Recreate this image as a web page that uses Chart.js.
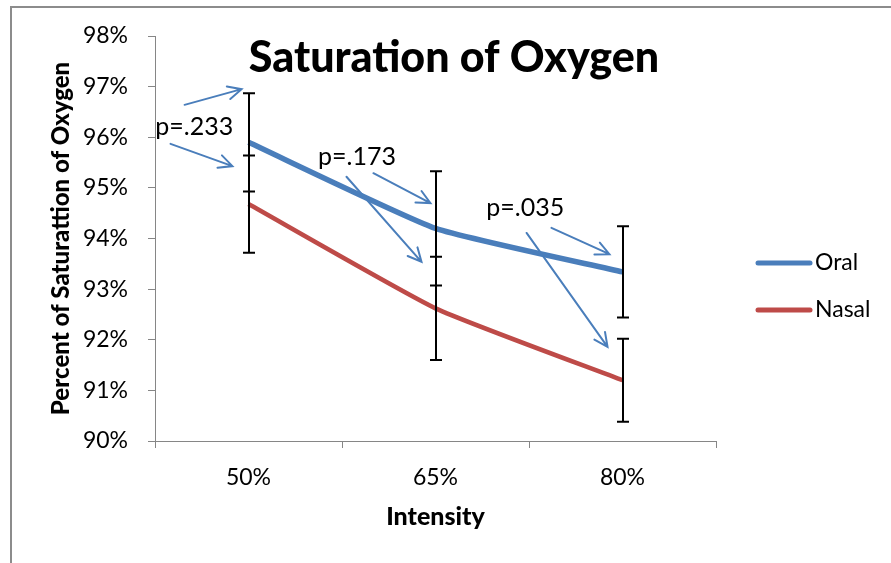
<!DOCTYPE html>
<html>
<head>
<meta charset="utf-8">
<script src="https://cdn.jsdelivr.net/npm/chart.js@4"></script>
<style>
  html, body { margin:0; padding:0; background:#fff; }
  #wrap { width:891px; height:563px; }
</style>
</head>
<body>
<div id="wrap"><canvas id="chart" width="891" height="563"></canvas></div>
<script>
const CATEGORIES = ['50%', '65%', '80%'];
const ORAL = [95.9, 94.2, 93.34];
const NASAL = [94.68, 92.62, 91.2];
const ORAL_ERR = [0.97, 1.13, 0.9];
const NASAL_ERR = [0.96, 1.02, 0.82];
const Y_MIN = 90;
const Y_MAX = 98;

// p-value notes, anchored in data space: [category index, value]
const P_TEXT = ['p=.233', 'p=.173', 'p=.035'];
const P_AT = [[-0.29, 96.2], [0.58, 95.61], [1.48, 94.6]];
// arrows: [fromIndex, fromValue, toIndex, toValue]
const ARROWS = [
  [-0.342, 96.64, -0.037, 96.95],
  [-0.417, 95.87, -0.086, 95.43],
  [0.668, 95.29, 0.973, 94.70],
  [0.524, 95.22, 0.925, 93.54],
  [1.620, 94.21, 1.930, 93.69],
  [1.487, 94.11, 1.920, 91.86]
];

const FONT = 'Lato';
const AXIS_GREY = '#868686';
const ARROW_BLUE = '#4a7ebb';

const frame = {
  id: 'frame',
  beforeDraw(chart){
    const c = chart.ctx;
    c.save();
    c.strokeStyle = '#8c8c8c';
    c.lineWidth = 2;
    c.strokeRect(11, 7, 1000, 1000);
    c.restore();
  }
};

const errorBars = {
  id: 'errorBars',
  afterDatasetsDraw(chart){
    const c = chart.ctx, ys = chart.scales.y;
    c.save();
    c.strokeStyle = '#000';
    c.lineWidth = 2;
    chart.data.datasets.forEach((ds, i) => {
      const meta = chart.getDatasetMeta(i);
      ds.data.forEach((v, j) => {
        const x = Math.round(meta.data[j].x);
        const t = ys.getPixelForValue(v + ds.errors[j]);
        const b = ys.getPixelForValue(v - ds.errors[j]);
        c.beginPath();
        c.moveTo(x, t); c.lineTo(x, b);
        c.moveTo(x - 6, t); c.lineTo(x + 6, t);
        c.moveTo(x - 6, b); c.lineTo(x + 6, b);
        c.stroke();
      });
    });
    c.restore();
  }
};

const notes = {
  id: 'notes',
  afterDraw(chart){
    const c = chart.ctx, xs = chart.scales.x, ys = chart.scales.y;
    c.save();
    c.strokeStyle = ARROW_BLUE;
    c.lineWidth = 2;
    c.lineCap = 'round';
    ARROWS.forEach(a => {
      const x1 = xs.getPixelForValue(a[0]), y1 = ys.getPixelForValue(a[1]);
      const x2 = xs.getPixelForValue(a[2]), y2 = ys.getPixelForValue(a[3]);
      const ang = Math.atan2(y2 - y1, x2 - x1);
      c.beginPath();
      c.moveTo(x1, y1); c.lineTo(x2, y2);
      c.moveTo(x2 - 15 * Math.cos(ang - 0.45), y2 - 15 * Math.sin(ang - 0.45));
      c.lineTo(x2, y2);
      c.lineTo(x2 - 15 * Math.cos(ang + 0.45), y2 - 15 * Math.sin(ang + 0.45));
      c.stroke();
    });
    c.fillStyle = '#000';
    c.font = '25px ' + FONT;
    c.textAlign = 'center';
    c.textBaseline = 'middle';
    P_TEXT.forEach((t, i) => {
      c.fillText(t, xs.getPixelForValue(P_AT[i][0]), ys.getPixelForValue(P_AT[i][1]));
    });

    // title
    c.font = '900 43px ' + FONT;
    c.fillText('Saturation of Oxygen', 454, 58);

    // legend
    c.textAlign = 'left';
    c.font = '23px ' + FONT;
    chart.data.datasets.forEach((ds, i) => {
      const y = 263 + i * 47;
      c.strokeStyle = ds.borderColor;
      c.lineWidth = 5;
      c.beginPath();
      c.moveTo(758, y); c.lineTo(810, y);
      c.stroke();
      c.fillText(ds.label, 815, y);
    });
    c.restore();
  }
};

new Chart(document.getElementById('chart').getContext('2d'), {
  type: 'line',
  data: {
    labels: CATEGORIES,
    datasets: [
      { label:'Oral', data:ORAL, errors:ORAL_ERR, borderColor:'#4a7ebb', borderWidth:5.5, tension:0.15, pointRadius:0, fill:false },
      { label:'Nasal', data:NASAL, errors:NASAL_ERR, borderColor:'#be4b48', borderWidth:4.5, tension:0.15, pointRadius:0, fill:false }
    ]
  },
  options: {
    responsive:false,
    animation:false,
    layout:{ padding:{ top:36, right:175, left:0, bottom:0 } },
    plugins:{ legend:{display:false}, tooltip:{enabled:false} },
    scales:{
      x:{
        offset:true,
        grid:{ offset:true, drawOnChartArea:false, tickLength:7, color:AXIS_GREY },
        border:{ color:AXIS_GREY },
        ticks:{ color:'#000', font:{family:FONT, size:23}, padding:16 },
        title:{ display:true, text:'Intensity', color:'#000', font:{family:FONT, size:25, weight:'900'}, padding:{top:0, bottom:31} },
        afterFit(s){ s.height = 122; }
      },
      y:{
        min:Y_MIN, max:Y_MAX,
        grid:{ drawOnChartArea:false, tickLength:7, color:AXIS_GREY },
        border:{ color:AXIS_GREY },
        ticks:{ stepSize:1, color:'#000', font:{family:FONT, size:23}, padding:20, callback:v => v + '%' },
        title:{ display:true, text:'Percent of Saturattion of Oxygen', color:'#000', font:{family:FONT, size:24, weight:'900'}, padding:{top:47, bottom:0} },
        afterFit(s){ s.width = 155; }
      }
    }
  },
  plugins:[frame, errorBars, notes]
});
</script>
</body>
</html>
